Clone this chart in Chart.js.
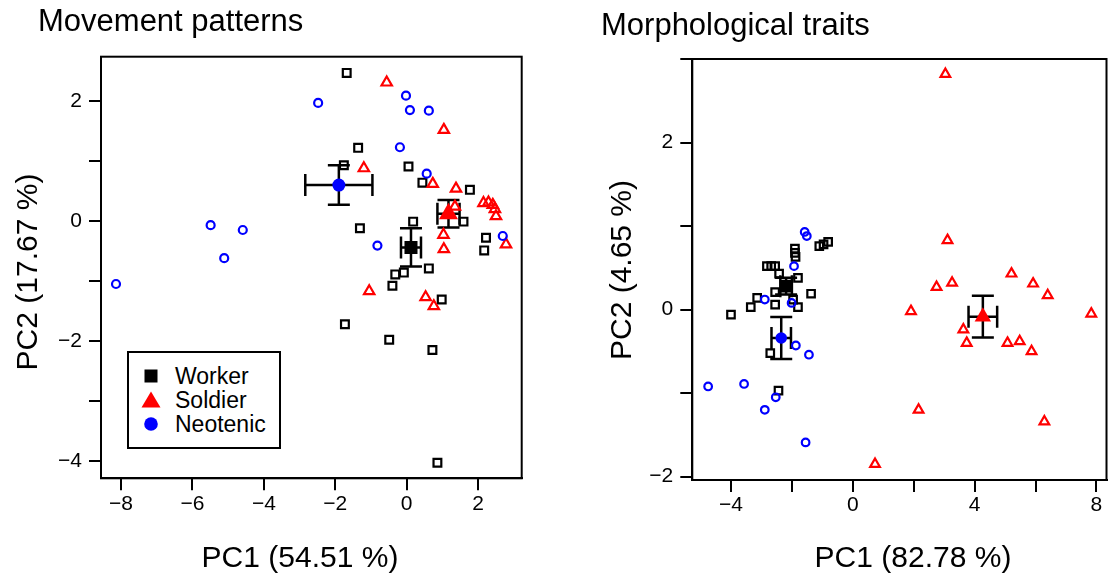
<!DOCTYPE html>
<html>
<head>
    <title>PCA: movement patterns and morphological traits</title>
    <style>
        body {
            margin: 0;
            background: #fff;
            color: #000;
            font-family: 'Liberation Sans', Arial, sans-serif;
        }

        #wrap {
            position: relative;
            width: 1116px;
            height: 579px;
            overflow: hidden;
        }

        canvas {
            position: absolute;
            top: 0;
        }

        .lbl {
            position: absolute;
            font-size: 30px;
            line-height: 30px;
            white-space: nowrap;
        }

        .main {
            font-size: 31px;
        }

        .ctr {
            width: 300px;
            text-align: center;
        }

        .rot {
            transform: rotate(-90deg);
        }

        #legend {
            position: absolute;
            left: 127px;
            top: 351px;
            width: 150px;
            height: 94px;
            border: 2px solid #000;
            background: #fff;
        }

        #legend .row {
            position: absolute;
            left: 46px;
            height: 24px;
            line-height: 24px;
            font-size: 23px;
        }

        #legend svg {
            position: absolute;
            left: -36px;
            top: 2px;
        }
    </style>
    <script src="https://cdn.jsdelivr.net/npm/chart.js"></script>
</head>
<body>
<div id="wrap">
    <canvas id="move-chart" width="558" height="579" style="left:0"></canvas>
    <canvas id="morph-chart" width="558" height="579" style="left:558px"></canvas>

    <div class="lbl main" style="left:38px; top:6px">Movement patterns</div>
    <div class="lbl main" style="left:601px; top:10px">Morphological traits</div>

    <div class="lbl ctr" style="left:150px; top:542px">PC1 (54.51 %)</div>
    <div class="lbl ctr" style="left:763px; top:542px">PC1 (82.78 %)</div>

    <div class="lbl ctr rot" style="left:-123px; top:257px">PC2 (17.67 %)</div>
    <div class="lbl ctr rot" style="left:471px; top:255px">PC2 (4.65 %)</div>

    <div id="legend">
        <div class="row" style="top:11px">
            <svg width="24" height="20"><rect x="5.5" y="3.5" width="13" height="13" fill="#000"/></svg>Worker
        </div>
        <div class="row" style="top:35px">
            <svg width="24" height="20"><polygon points="12,1.5 21.5,17.5 2.5,17.5" fill="#ff0000"/></svg>Soldier
        </div>
        <div class="row" style="top:59px">
            <svg width="24" height="20"><circle cx="12" cy="10" r="6.8" fill="#0000ff"/></svg>Neotenic
        </div>
    </div>
</div>

<script>
    // Movement patterns (left panel)
    const moveWorkerX = [-1.68, -1.36, -1.76, 0.05, 0.44, 1.77, 1.59, 0.18, -1.31, 2.22, 2.17, 0.62, -0.08, -0.32, -0.40, 0.98, -1.73, -0.49, 0.72, 0.86];
    const moveWorkerY = [2.47, 1.22, 0.93, 0.91, 0.64, 0.52, -0.01, -0.01, -0.12, -0.28, -0.49, -0.79, -0.86, -0.89, -1.08, -1.31, -1.72, -1.98, -2.15, -4.03];
    const moveSoldierX = [-0.56, 1.04, -1.20, 0.73, 1.38, 1.35, 2.15, 2.29, 2.41, 2.47, 2.50, 1.03, 1.04, 2.78, -1.05, 0.53, 0.76];
    const moveSoldierY = [2.31, 1.52, 0.88, 0.62, 0.54, 0.24, 0.30, 0.31, 0.27, 0.20, 0.08, -0.23, -0.47, -0.39, -1.17, -1.27, -1.42];
    const moveNeoX = [-2.48, -0.02, 0.09, 0.62, -0.19, 0.56, -5.49, -4.59, -5.11, -8.14, -0.82, 2.69];
    const moveNeoY = [1.97, 2.09, 1.85, 1.84, 1.23, 0.79, -0.07, -0.15, -0.62, -1.05, -0.41, -0.25];
    // group means and errors, order: Worker, Soldier, Neotenic
    const moveMeanX = [0.12, 1.17, -1.90];
    const moveMeanY = [-0.44, 0.12, 0.60];
    const moveErrX = [0.28, 0.31, 0.94];
    const moveErrY = [0.32, 0.23, 0.33];

    // Morphological traits (right panel)
    const morphWorkerX = [-1.90, -1.90, -1.88, -1.10, -0.96, -0.81, -2.82, -2.68, -2.55, -2.42, -1.80, -1.37, -2.55, -3.14, -3.35, -2.55, -1.80, -1.96, -4.00, -2.71, -2.44];
    const morphWorkerY = [0.73, 0.68, 0.63, 0.76, 0.78, 0.81, 0.52, 0.52, 0.52, 0.43, 0.38, 0.19, 0.21, 0.14, 0.03, 0.06, 0.03, 0.12, -0.06, -0.52, -0.97];
    const morphSoldierX = [3.04, 3.11, 2.75, 3.26, 5.21, 5.92, 6.40, 1.91, 7.83, 3.63, 3.74, 5.08, 5.48, 5.87, 2.16, 6.29, 0.73];
    const morphSoldierY = [2.82, 0.83, 0.27, 0.32, 0.43, 0.31, 0.17, -0.02, -0.05, -0.24, -0.40, -0.40, -0.38, -0.50, -1.20, -1.34, -1.85];
    const morphNeoX = [-1.58, -1.51, -1.93, -2.89, -2.01, -1.87, -1.44, -4.75, -3.57, -2.53, -2.89, -1.55];
    const morphNeoY = [0.93, 0.88, 0.52, 0.12, 0.08, -0.43, -0.54, -0.92, -0.89, -1.05, -1.20, -1.59];
    const morphMeanX = [-2.19, 4.27, -2.35];
    const morphMeanY = [0.28, -0.085, -0.34];
    const morphErrX = [0.19, 0.47, 0.32];
    const morphErrY = [0.10, 0.25, 0.25];

    const FONT = "'Liberation Sans', Arial, sans-serif";
    const RED = '#ff0000';
    const BLUE = '#0000ff';
    const NONE = 'rgba(0,0,0,0)';

    function pts(xs, ys) {
        return xs.map((v, i) => ({x: v, y: ys[i]}));
    }

    function fmt(v) {
        return v < 0 ? '\u2212' + Math.abs(v) : String(v);
    }

    // error bars under the markers, plot box on top
    function errorBars(mx, my, ex, ey) {
        return {
            id: 'errorBars',
            beforeDatasetsDraw(chart) {
                const {ctx, scales: {x, y}} = chart;
                const cap = 11;
                ctx.save();
                ctx.strokeStyle = '#000';
                ctx.lineWidth = 2.5;
                mx.forEach((m, i) => {
                    const px = x.getPixelForValue(m);
                    const py = y.getPixelForValue(my[i]);
                    const x0 = x.getPixelForValue(m - ex[i]);
                    const x1 = x.getPixelForValue(m + ex[i]);
                    const y0 = y.getPixelForValue(my[i] - ey[i]);
                    const y1 = y.getPixelForValue(my[i] + ey[i]);
                    ctx.beginPath();
                    ctx.moveTo(x0, py); ctx.lineTo(x1, py);
                    ctx.moveTo(x0, py - cap); ctx.lineTo(x0, py + cap);
                    ctx.moveTo(x1, py - cap); ctx.lineTo(x1, py + cap);
                    ctx.moveTo(px, y0); ctx.lineTo(px, y1);
                    ctx.moveTo(px - cap, y0); ctx.lineTo(px + cap, y0);
                    ctx.moveTo(px - cap, y1); ctx.lineTo(px + cap, y1);
                    ctx.stroke();
                });
                ctx.restore();
            },
            afterDraw(chart) {
                const {ctx, chartArea: a} = chart;
                ctx.save();
                ctx.strokeStyle = '#000';
                ctx.lineWidth = 2;
                ctx.strokeRect(a.left, a.top, a.right - a.left, a.bottom - a.top);
                ctx.restore();
            }
        };
    }

    function axis(min, max, step, labelEvery, fixed, isX, pad) {
        return {
            type: 'linear',
            min: min,
            max: max,
            afterFit: s => { if (isX) s.height = fixed; else s.width = fixed; },
            ticks: {
                stepSize: step,
                includeBounds: false,
                autoSkip: false,
                maxRotation: 0,
                padding: pad,
                color: '#000',
                font: {family: FONT, size: 21},
                callback: v => (Math.abs(v % labelEvery) < 1e-9 ? fmt(v) : '')
            },
            grid: {
                drawOnChartArea: false,
                drawTicks: true,
                tickLength: 12,
                tickWidth: 2,
                tickColor: '#000',
                color: '#000',
                lineWidth: 2
            },
            border: {display: true, color: '#000', width: 2}
        };
    }

    function makeChart(id, g, sizes) {
        const ctx = document.getElementById(id).getContext('2d');
        return new Chart(ctx, {
            type: 'scatter',
            data: {
                datasets: [
                    // means first so they are drawn on top
                    {data: [{x: g.meanX[0], y: g.meanY[0]}], pointStyle: 'rect', pointRadius: sizes.mSq, backgroundColor: '#000', borderColor: '#000', borderWidth: 0},
                    {data: [{x: g.meanX[1], y: g.meanY[1]}], pointStyle: 'triangle', pointRadius: sizes.mTri, backgroundColor: RED, borderColor: RED, borderWidth: 0},
                    {data: [{x: g.meanX[2], y: g.meanY[2]}], pointStyle: 'circle', pointRadius: sizes.mCir, backgroundColor: BLUE, borderColor: BLUE, borderWidth: 0},
                    {data: pts(g.neoX, g.neoY), pointStyle: 'circle', pointRadius: sizes.cir, backgroundColor: NONE, borderColor: BLUE, borderWidth: 2.2},
                    {data: pts(g.solX, g.solY), pointStyle: 'triangle', pointRadius: sizes.tri, backgroundColor: NONE, borderColor: RED, borderWidth: 2.2},
                    {data: pts(g.wrkX, g.wrkY), pointStyle: 'rect', pointRadius: sizes.sq, backgroundColor: NONE, borderColor: '#000', borderWidth: 2.2}
                ]
            },
            options: {
                responsive: false,
                animation: false,
                events: [],
                layout: {padding: g.padding},
                plugins: {legend: {display: false}, tooltip: {enabled: false}, title: {display: false}},
                scales: {x: g.x, y: g.y}
            },
            plugins: [errorBars(g.meanX, g.meanY, g.errX, g.errY)]
        });
    }

    makeChart('move-chart', {
        wrkX: moveWorkerX, wrkY: moveWorkerY,
        solX: moveSoldierX, solY: moveSoldierY,
        neoX: moveNeoX, neoY: moveNeoY,
        meanX: moveMeanX, meanY: moveMeanY, errX: moveErrX, errY: moveErrY,
        padding: {left: 0, top: 56.7, right: 36.3, bottom: 0},
        x: axis(-8.56, 3.22, 2, 2, 100.7, true, 1),
        y: axis(-4.29, 2.74, 1, 2, 101, false, 7)
    }, {mSq: 9.2, mTri: 11, mCir: 6.5, cir: 4, tri: 6, sq: 5.5});

    makeChart('morph-chart', {
        wrkX: morphWorkerX, wrkY: morphWorkerY,
        solX: morphSoldierX, solY: morphSoldierY,
        neoX: morphNeoX, neoY: morphNeoY,
        meanX: morphMeanX, meanY: morphMeanY, errX: morphErrX, errY: morphErrY,
        padding: {left: 34.3, top: 59, right: 2, bottom: 0},
        x: axis(-5.27, 8.33, 2, 4, 99, true, 1),
        y: axis(-2.04, 3.0, 1, 2, 100, false, 7)
    }, {mSq: 9, mTri: 9.5, mCir: 5.8, cir: 3.8, tri: 5.6, sq: 5.3});
</script>
</body>
</html>
